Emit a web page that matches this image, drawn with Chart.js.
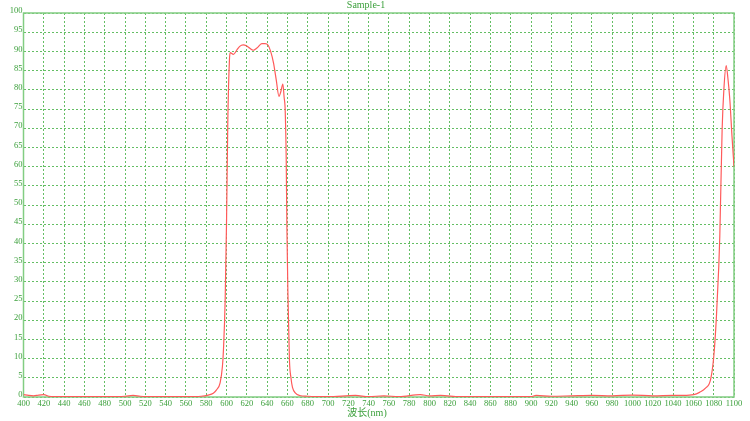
<!DOCTYPE html>
<html>
<head>
<meta charset="utf-8">
<title>Sample-1</title>
<script src="https://cdn.jsdelivr.net/npm/chart.js@4"></script>
<style>
  body { margin: 0; background: #fff; }
  canvas { display: block; }
</style>
</head>
<body>
<canvas id="chart" width="750" height="421"></canvas>
<script>
// wavelength (nm) and transmission (%)
const wavelengths = [
  400, 405, 410, 415, 420, 425, 430, 450, 480, 500, 508, 515, 530, 560, 575, 582,
  587, 590, 593.7, 596, 597, 598.7, 600, 601.3, 602.9, 603.6, 606.8, 610, 613, 616.4,
  620, 623, 626.3, 630, 634.8, 638, 641, 643.5, 646.3, 649, 651.7, 653.5, 655.5, 656.8,
  657.8, 658.8, 659.5, 660.5, 662, 663.5, 665, 668, 672, 680, 700, 727, 740, 755,
  770, 791, 800, 811, 830, 860, 900, 905, 920, 940, 960, 980, 1000, 1020, 1040, 1050,
  1060.4, 1066, 1071.9, 1076.9, 1080.1, 1082.7, 1085, 1086, 1088.3, 1090, 1092.3, 1094,
  1095.9, 1098, 1100
];
const transmission = [
  0.6, 0.4, 0.3, 0.5, 0.6, 0.2, 0.1, 0.1, 0.1, 0.2, 0.4, 0.2, 0.1, 0.1, 0.2, 0.5,
  1.0, 1.8, 3.7, 8, 12.3, 25.3, 45, 72, 87.8, 89.7, 89.2, 90.3, 91.3, 91.7,
  91.4, 90.8, 90.3, 90.9, 92, 92, 91.6, 90, 87, 82.6, 78.3, 79.5, 81.5, 78,
  74.8, 62.7, 44.4, 27, 9.7, 5, 2.5, 1, 0.4, 0.2, 0.1, 0.4, 0.1, 0.3,
  0.1, 0.6, 0.3, 0.4, 0.1, 0.1, 0.1, 0.4, 0.2, 0.3, 0.4, 0.3, 0.5, 0.3, 0.4, 0.4,
  0.6, 1.2, 2.3, 4.5, 10.6, 21, 34, 41.8, 69.6, 80, 86.3, 83,
  77.4, 68, 60
];
const xTicks = { min: 400, max: 1100, step: 20 };
const yTicks = { min: 0, max: 100, step: 5 };
const chartTitle = 'Sample-1';
const xTitle = '波长(nm)';

const green = 'rgb(60,160,60)';
const gridGreen = 'rgb(100,190,100)';
const borderGreen = 'rgb(130,205,130)';
const serif = '"Liberation Serif", "DejaVu Serif", serif';

const points = wavelengths.map((w, i) => ({ x: w, y: transmission[i] }));

const frame = {
  id: 'frame',
  beforeDatasetsDraw(chart) {
    const a = chart.chartArea;
    const ctx = chart.ctx;
    ctx.save();
    ctx.strokeStyle = borderGreen;
    ctx.lineWidth = 1.5;
    ctx.strokeRect(a.left, a.top, a.right - a.left, a.bottom - a.top);
    ctx.restore();
  },
  afterDraw(chart) {
    const ctx = chart.ctx;
    ctx.save();
    ctx.fillStyle = green;
    ctx.font = '10px ' + serif;
    ctx.textAlign = 'center';
    ctx.textBaseline = 'middle';
    ctx.fillText(chartTitle, 366, 5);
    ctx.font = '10px "Liberation Serif", "Noto Sans CJK SC", serif';
    ctx.fillText(xTitle, 367, 413);
    ctx.restore();
  }
};

new Chart(document.getElementById('chart').getContext('2d'), {
  type: 'line',
  data: {
    datasets: [{
      label: chartTitle,
      data: points,
      borderColor: 'rgb(255,90,90)',
      borderWidth: 1.2,
      pointRadius: 0,
      cubicInterpolationMode: 'monotone',
      fill: false
    }]
  },
  plugins: [frame],
  options: {
    responsive: false,
    animation: false,
    devicePixelRatio: 1,
    layout: { padding: { top: 13, right: 16, left: 0, bottom: 0 } },
    plugins: {
      legend: { display: false },
      title: { display: false },
      tooltip: { enabled: false }
    },
    scales: {
      x: {
        type: 'linear',
        min: xTicks.min,
        max: xTicks.max,
        afterFit(scale) { scale.height = 24; },
        ticks: {
          stepSize: xTicks.step,
          color: green,
          font: { family: serif, size: 8.5 },
          padding: 2,
          maxRotation: 0,
          autoSkip: false,
          callback: v => String(v)
        },
        grid: {
          color: gridGreen,
          lineWidth: 1,
          drawTicks: false
        },
        border: { display: false, dash: [2, 2] }
      },
      y: {
        min: yTicks.min,
        max: yTicks.max,
        afterFit(scale) { scale.width = 23.5; },
        ticks: {
          stepSize: yTicks.step,
          color: green,
          font: { family: serif, size: 8.5 },
          padding: 1,
          labelOffset: -2,
          autoSkip: false,
          callback: v => String(v)
        },
        grid: {
          color: gridGreen,
          lineWidth: 1,
          drawTicks: false
        },
        border: { display: false, dash: [2, 2] }
      }
    }
  }
});
</script>
</body>
</html>
